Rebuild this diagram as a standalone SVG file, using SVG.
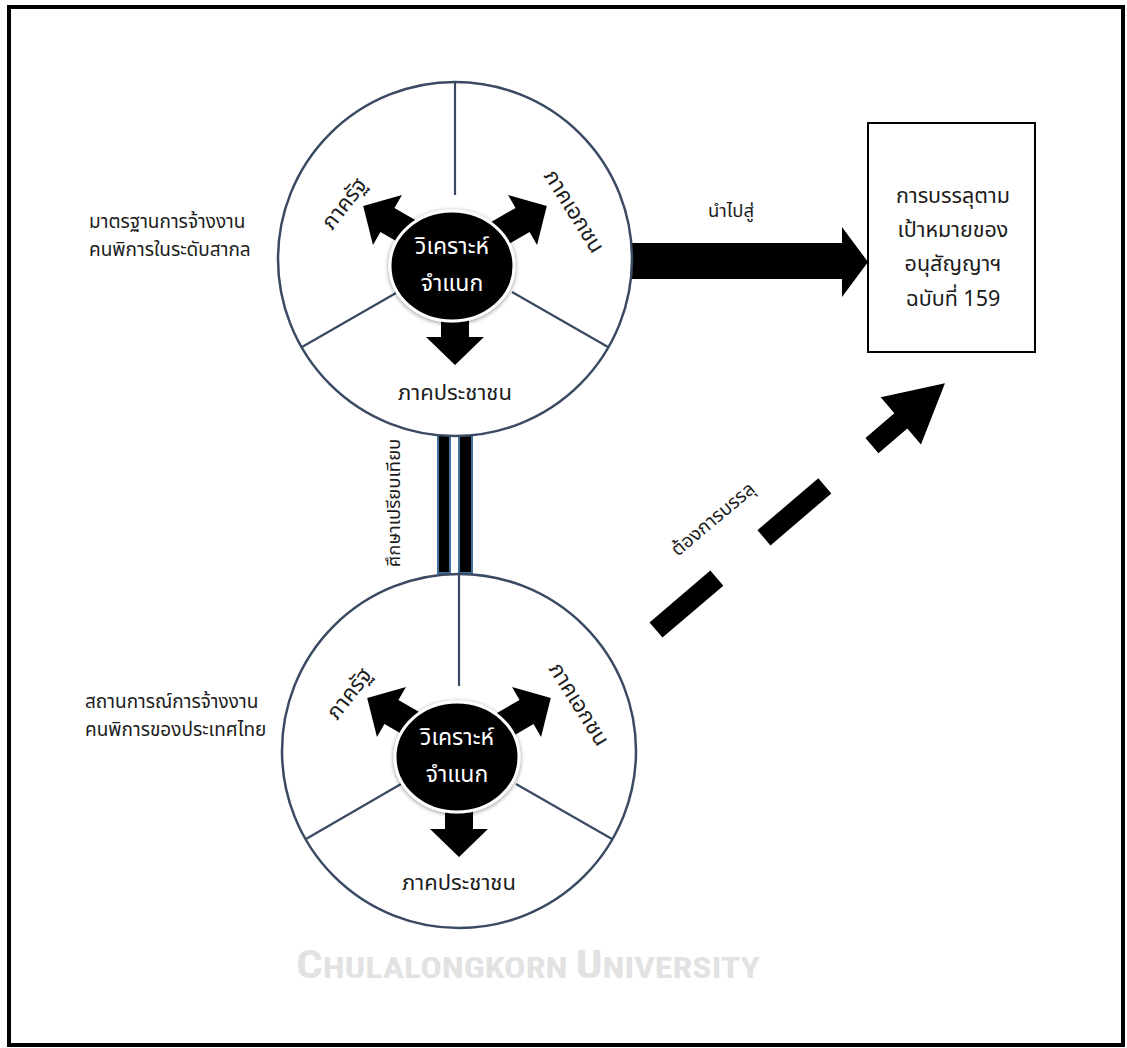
<svg xmlns="http://www.w3.org/2000/svg" width="1127" height="1048" viewBox="0 0 1127 1048">
  <style>
    .thai { font-family: "Noto Sans Thai", "Leelawadee UI", Tahoma, "DejaVu Sans", "Noto Sans", sans-serif; fill: #1c1c1c; }
    .ring { fill: #ffffff; stroke: #3a4a62; stroke-width: 2.5; }
    .divider { stroke: #3a4a62; stroke-width: 2.2; fill: none; }
    .blk { fill: #000000; }
    .core { fill: #000000; stroke: #ffffff; stroke-width: 3; filter: url(#shadow); }
    .coretext { font-family: "Noto Sans Thai", "Leelawadee UI", Tahoma, "DejaVu Sans", "Noto Sans", sans-serif; fill: #ffffff; font-size: 23px; text-anchor: middle; }
    .lbl { font-size: 22px; text-anchor: middle; }
    .side { font-size: 19px; }
    .box { fill: #ffffff; stroke: #000000; stroke-width: 2; }
    .boxtext { font-size: 21.5px; text-anchor: middle; }
    .bar { fill: #000000; stroke: #41719c; stroke-width: 2; }
    .mark { font-family: "Liberation Sans Narrow", "Roboto Condensed", "Liberation Sans", sans-serif; font-weight: bold; fill: #e2e2e2; }
  </style>
  <defs>
    <filter id="shadow" x="-30%" y="-30%" width="160%" height="160%">
      <feDropShadow dx="0" dy="1" stdDeviation="2" flood-color="#000000" flood-opacity="0.45"/>
    </filter>
    <!-- block arrow pointing down from the hub centre -->
    <polygon id="spoke" points="-14,40 14,40 14,78 29,78 0,106 -29,78 -14,78"/>
  </defs>

  <!-- page frame -->
  <rect x="9" y="7" width="1114" height="1038" fill="#ffffff" stroke="#000000" stroke-width="4"/>

  <!-- connectors -->
  <g id="connectors">
    <!-- comparison link between the two circles -->
    <rect class="bar" x="438" y="434" width="12" height="139"/>
    <rect class="bar" x="459" y="434" width="13" height="139"/>
    <!-- leads to -->
    <polygon class="blk" points="626,243 842,243 842,227 868,262 842,297 842,279 626,279"/>
    <!-- wants to achieve (dashed) -->
    <g transform="translate(656,630) rotate(-40.5)">
      <rect class="blk" x="0" y="-10" width="80" height="20"/>
      <rect class="blk" x="142" y="-10" width="80" height="20"/>
      <polygon class="blk" points="284,-10 322,-10 322,-31 380,0 322,31 322,10 284,10"/>
    </g>
  </g>

  <!-- connector labels -->
  <text class="thai" x="731" y="217" font-size="18.5" text-anchor="middle">นำไปสู่</text>
  <text class="thai" x="0" y="0" font-size="19" text-anchor="middle" transform="translate(717,524) rotate(-40)">ต้องการบรรลุ</text>
  <text class="thai" x="0" y="0" font-size="18.5" text-anchor="middle" transform="translate(400,503) rotate(-90)">ศึกษาเปรียบเทียบ</text>

  <!-- international standards circle -->
  <g id="circle-international">
    <circle class="ring" cx="455" cy="259" r="177"/>
    <line class="divider" x1="455" y1="82" x2="455" y2="195"/>
    <line class="divider" x1="302" y1="347" x2="396" y2="293"/>
    <line class="divider" x1="608" y1="347" x2="512" y2="292"/>
    <g transform="translate(455,259)">
      <use href="#spoke" class="blk"/>
      <use href="#spoke" class="blk" transform="rotate(120)"/>
      <use href="#spoke" class="blk" transform="rotate(-120)"/>
    </g>
    <ellipse class="core" cx="452" cy="266" rx="62" ry="55"/>
    <text class="coretext" x="452" y="254">วิเคราะห์</text>
    <text class="coretext" x="452" y="291">จำแนก</text>
    <text class="thai lbl" x="0" y="0" transform="translate(350,208) rotate(-52)">ภาครัฐ</text>
    <text class="thai lbl" x="0" y="0" transform="translate(568,215) rotate(58)">ภาคเอกชน</text>
    <text class="thai lbl" x="455" y="400">ภาคประชาชน</text>
  </g>
  <text class="thai side" x="89" y="228">มาตรฐานการจ้างงาน</text>
  <text class="thai side" x="89" y="256">คนพิการในระดับสากล</text>

  <!-- Thai situation circle -->
  <g id="circle-thailand">
    <circle class="ring" cx="459" cy="751" r="177"/>
    <line class="divider" x1="459" y1="574" x2="459" y2="686"/>
    <line class="divider" x1="306" y1="839" x2="401" y2="784"/>
    <line class="divider" x1="612" y1="839" x2="516" y2="784"/>
    <g transform="translate(459,751)">
      <use href="#spoke" class="blk"/>
      <use href="#spoke" class="blk" transform="rotate(120)"/>
      <use href="#spoke" class="blk" transform="rotate(-120)"/>
    </g>
    <ellipse class="core" cx="457" cy="757" rx="62" ry="55"/>
    <text class="coretext" x="457" y="745">วิเคราะห์</text>
    <text class="coretext" x="457" y="782">จำแนก</text>
    <text class="thai lbl" x="0" y="0" transform="translate(355,698) rotate(-52)">ภาครัฐ</text>
    <text class="thai lbl" x="0" y="0" transform="translate(573,708) rotate(58)">ภาคเอกชน</text>
    <text class="thai lbl" x="459" y="890">ภาคประชาชน</text>
  </g>
  <text class="thai side" x="85" y="708">สถานการณ์การจ้างงาน</text>
  <text class="thai side" x="85" y="736">คนพิการของประเทศไทย</text>

  <!-- target box -->
  <g id="target">
    <rect class="box" x="868" y="123" width="167" height="229"/>
    <text class="thai boxtext" x="953" y="203">การบรรลุตาม</text>
    <text class="thai boxtext" x="953" y="237">เป้าหมายของ</text>
    <text class="thai boxtext" x="953" y="271">อนุสัญญาฯ</text>
    <text class="thai boxtext" x="953" y="306">ฉบับที่ 159</text>
  </g>

  <!-- watermark -->
  <text class="mark" x="296" y="978" textLength="464" lengthAdjust="spacingAndGlyphs"><tspan font-size="38">C</tspan><tspan font-size="29">HULALONGKORN </tspan><tspan font-size="38">U</tspan><tspan font-size="29">NIVERSITY</tspan></text>
</svg>
